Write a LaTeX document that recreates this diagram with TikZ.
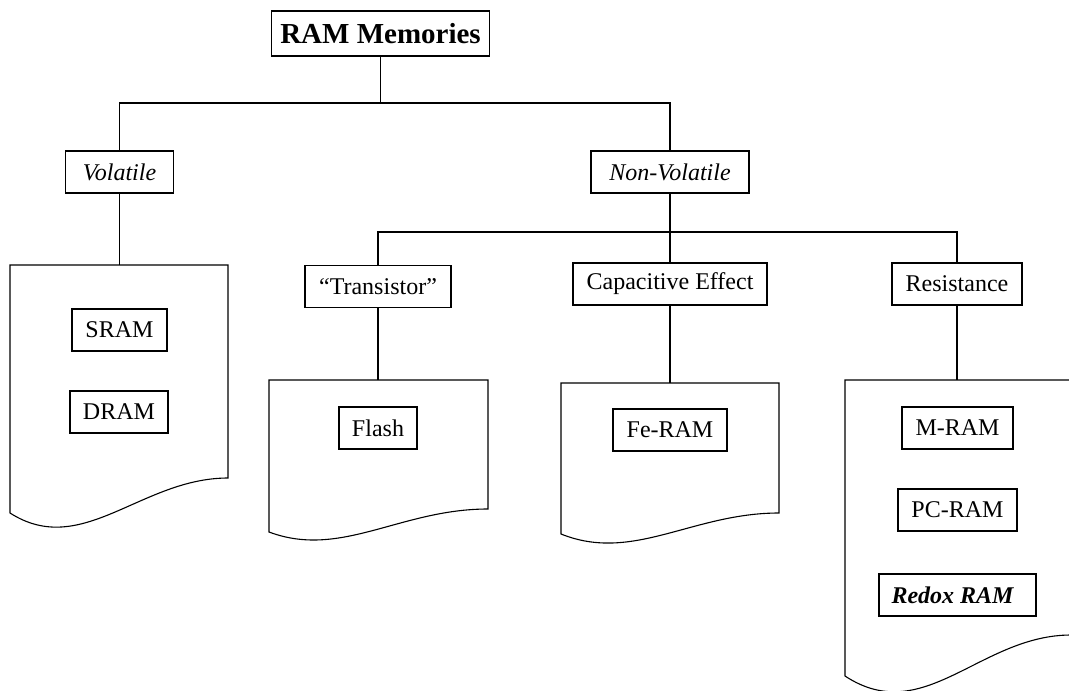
\documentclass[tikz,border=0pt]{standalone}
\usepackage{fontspec}
\setmainfont{Liberation Serif}
\begin{document}
\begin{tikzpicture}[x=1pt,y=-1pt,
  box/.style={draw,line width=1.1pt,inner sep=0pt,minimum height=42pt,font=\fontsize{24}{28}\selectfont},
  link/.style={line width=1.1pt},
  docshape/.style={draw,line width=1.1pt}]
\useasboundingbox (0,0) rectangle (1069,691);
\clip (0,0) rectangle (1069,691);
% top
\node[box,minimum width=218pt,minimum height=45pt,font=\fontsize{29}{34}\selectfont\bfseries] (title) at (380.5,33.5) {RAM Memories};
\node[box,minimum width=108pt,font=\fontsize{24}{28}\selectfont\itshape] (vol) at (119.5,172) {Volatile};
\node[box,minimum width=158pt,font=\fontsize{24}{28}\selectfont\itshape] (nonvol) at (670,172) {Non-Volatile};
\node[box,minimum width=146pt] (trans) at (378,286.5) {“Transistor”};
\node[box,minimum width=194pt] (cap) at (670,284) {Capacitive Effect};
\node[box,minimum width=130pt] (res) at (957,284) {Resistance};
\coordinate (j1) at (380.5,103);
\coordinate (j2) at (670,232);
% document shapes
\draw[docshape] (10,513) -- (10,265) -- (228,265) -- (228,478)
  .. controls (141,478) and (82,559) .. (10,513) -- cycle;
\coordinate (voldoc) at (119.5,265);
\draw[docshape] (269,532) -- (269,380) -- (488,380) -- (488,509)
  .. controls (400,509) and (341,559) .. (269,532) -- cycle;
\coordinate (flashdoc) at (378,380);
\draw[docshape] (561,534) -- (561,383) -- (779,383) -- (779,513)
  .. controls (692,513) and (633,563) .. (561,534) -- cycle;
\coordinate (capdoc) at (670,383);
\draw[docshape] (845,676) -- (845,380) -- (1071,380) -- (1071,635)
  .. controls (980,635) and (924,728) .. (845,676) -- cycle;
\coordinate (resdoc) at (957,380);
% inner boxes
\node[box,minimum width=95pt] (sram) at (119.5,330) {SRAM};
\node[box,minimum width=98pt] (dram) at (119,412) {DRAM};
\node[box,minimum width=78pt] (flash) at (378,428) {Flash};
\node[box,minimum width=114pt] (feram) at (670,430) {Fe-RAM};
\node[box,minimum width=111pt] (mram) at (957.5,428) {M-RAM};
\node[box,minimum width=119pt] (pcram) at (957.5,510) {PC-RAM};
\node[box,minimum width=157pt,font=\fontsize{24}{28}\selectfont\bfseries\itshape] (redox) at (957.5,595) {Redox RAM\hspace*{10pt}};
% connectors
\draw[link] (title.south) -- (j1);
\draw[link] (vol.north) -- (vol.north |- j1) -- (nonvol.north |- j1) -- (nonvol.north);
\draw[link] (vol.south) -- (voldoc);
\draw[link] (nonvol.south) -- (cap.north);
\draw[link] (trans.north) -- (trans.north |- j2) -- (res.north |- j2) -- (res.north);
\draw[link] (trans.south) -- (flashdoc);
\draw[link] (cap.south) -- (capdoc);
\draw[link] (res.south) -- (resdoc);
\end{tikzpicture}
\end{document}
